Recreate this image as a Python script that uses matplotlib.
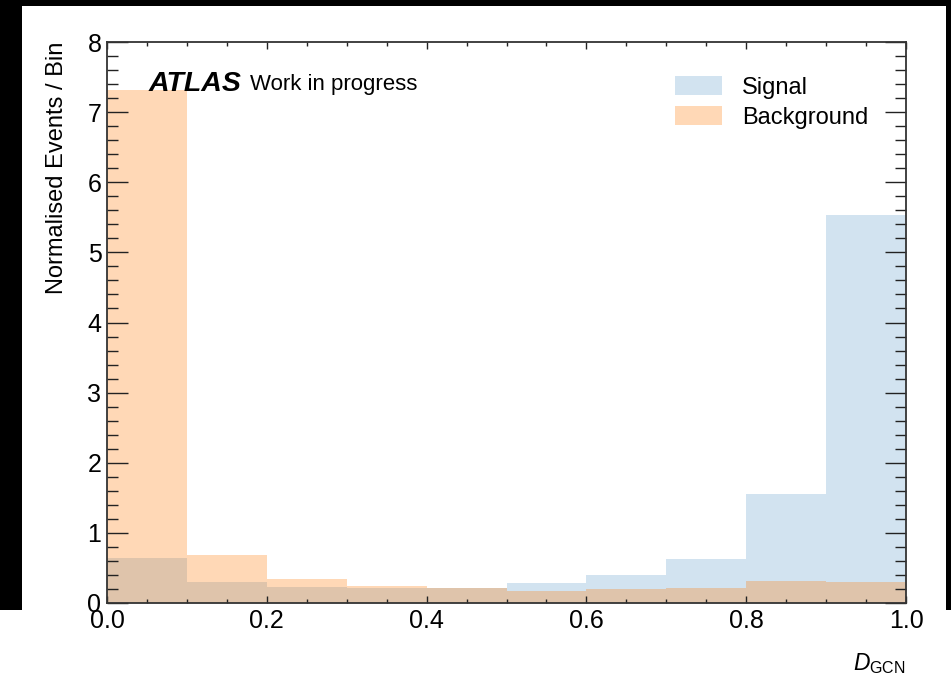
import numpy as np
import matplotlib
matplotlib.use("Agg")
import matplotlib.pyplot as plt
from matplotlib.patches import Rectangle
from matplotlib.ticker import MultipleLocator

# bin edges of the classifier output and normalised bin contents
bin_edges = [0.0, 0.1, 0.2, 0.3, 0.4, 0.5, 0.6, 0.7, 0.8, 0.9, 1.0]
signal = [0.646, 0.295, 0.23, 0.22, 0.215, 0.28, 0.40, 0.63, 1.555, 5.535]
background = [7.31, 0.685, 0.34, 0.24, 0.22, 0.176, 0.195, 0.218, 0.31, 0.295]

plt.rcParams["font.family"] = ["Liberation Sans", "DejaVu Sans"]
plt.rcParams["mathtext.fontset"] = "custom"
plt.rcParams["mathtext.rm"] = "Liberation Sans"
plt.rcParams["mathtext.it"] = "Liberation Sans:italic"

fig = plt.figure(figsize=(9.51, 6.74), dpi=100, facecolor="white")

# dark frame around the panel
frame_kw = dict(transform=fig.transFigure, facecolor="black", edgecolor="none", zorder=-5)
fig.patches.append(Rectangle((0, 1 - 6 / 674), 1, 6 / 674, **frame_kw))
fig.patches.append(Rectangle((0, 64 / 674), 22 / 951, 1 - 64 / 674, **frame_kw))
fig.patches.append(Rectangle((946 / 951, 64 / 674), 5 / 951, 1 - 64 / 674, **frame_kw))

ax = fig.add_axes([107 / 951, 1 - 603 / 674, 799 / 951, 561 / 674])

ax.stairs(signal, bin_edges, fill=True, color="tab:blue", alpha=0.2, label="Signal")
ax.stairs(background, bin_edges, fill=True, color="tab:orange", alpha=0.3, label="Background")

ax.set_xlim(0, 1)
ax.set_ylim(0, 8)
ax.xaxis.set_major_locator(MultipleLocator(0.2))
ax.xaxis.set_minor_locator(MultipleLocator(0.05))
ax.yaxis.set_major_locator(MultipleLocator(1))
ax.yaxis.set_minor_locator(MultipleLocator(0.2))
ax.xaxis.set_major_formatter(matplotlib.ticker.FormatStrFormatter("%.1f"))

ax.tick_params(axis="both", which="both", direction="in", top=True, right=True,
               labelsize=18, color="#222222", width=1)
ax.tick_params(axis="y", which="major", length=15, pad=4)
ax.tick_params(axis="y", which="minor", length=8)
ax.tick_params(axis="x", which="major", length=5, pad=4)
ax.tick_params(axis="x", which="minor", length=3)
for spine in ax.spines.values():
    spine.set_linewidth(1.3)
    spine.set_color("#333333")

ax.set_ylabel("Normalised Events / Bin", fontsize=17, loc="top", labelpad=14)
ax.set_xlabel(r"$D_{\mathrm{GCN}}$", fontsize=16.5, loc="right", labelpad=13)

ax.text(0.052, 0.925, "ATLAS", transform=ax.transAxes, fontsize=20.5,
        fontweight="bold", fontstyle="italic", va="center", ha="left")
ax.text(0.179, 0.925, "Work in progress", transform=ax.transAxes, fontsize=16,
        va="center", ha="left")

ax.legend(loc="upper right", bbox_to_anchor=(1, 1.007), frameon=False, fontsize=17,
          handlelength=2.0, handleheight=0.9, borderaxespad=1.2, labelspacing=0.3,
          handletextpad=0.85)

fig.savefig("out.png", dpi=100, facecolor="white")
